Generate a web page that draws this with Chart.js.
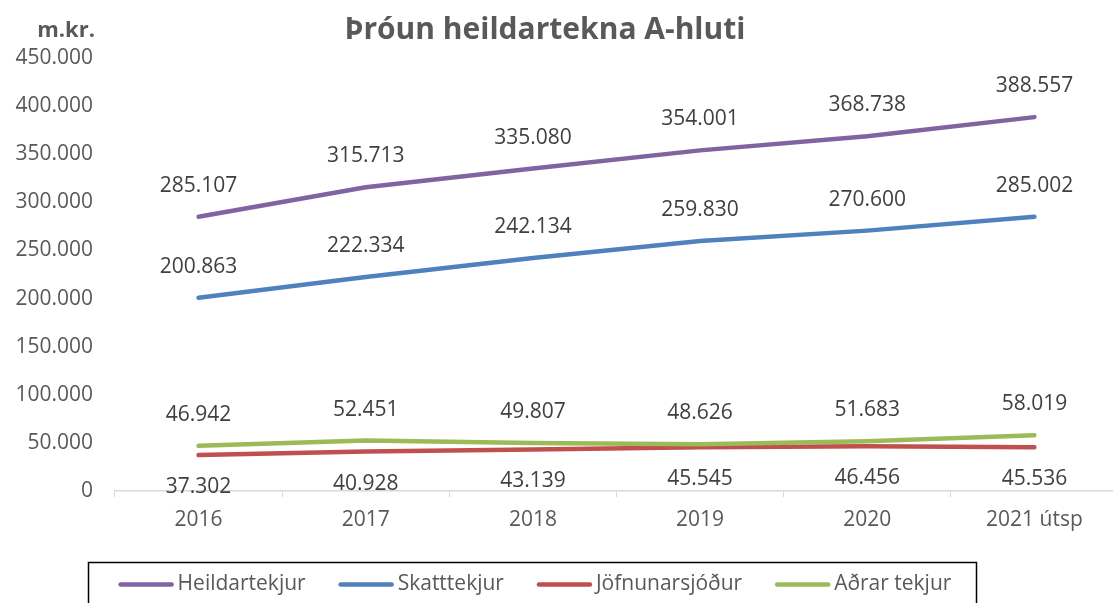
<!DOCTYPE html>
<html><head><meta charset="utf-8">
<script src="https://cdn.jsdelivr.net/npm/chart.js@4/dist/chart.umd.min.js"></script>
<style>html,body{margin:0;padding:0;background:#fff;overflow:hidden}#wrap{width:1113px;height:603px;overflow:hidden;position:relative}canvas{display:block}</style>
</head><body><div id="wrap"><canvas id="c" width="1118" height="603"></canvas></div>
<script>
const categories = ['2016', '2017', '2018', '2019', '2020', '2021 útsp'];
const heildartekjur = [285107, 315713, 335080, 354001, 368738, 388557];
const skatttekjur = [200863, 222334, 242134, 259830, 270600, 285002];
const jofnunarsjodur = [37302, 40928, 43139, 45545, 46456, 45536];
const adrarTekjur = [46942, 52451, 49807, 48626, 51683, 58019];
const seriesNames = ['Heildartekjur', 'Skatttekjur', 'Jöfnunarsjóður', 'Aðrar tekjur'];
const chartTitle = 'Þróun heildartekna A-hluti';
const unitLabel = 'm.kr.';
const yMin = 0, yMax = 450000, yStep = 50000;

const FONT = "'Open Sans', 'DejaVu Sans', sans-serif";
function fmt(v) { return String(Math.round(v)).replace(/\B(?=(\d{3})+(?!\d))/g, '.'); }

const colors = ['#8064A2', '#4F81BD', '#C0504D', '#9BBB59'];
const values = [heildartekjur, skatttekjur, jofnunarsjodur, adrarTekjur];
const labelSide = ['above', 'above', 'below', 'above'];
const drawOrder = [4, 3, 2, 1];

const datasets = values.map((v, i) => ({
  label: seriesNames[i],
  data: v,
  borderColor: colors[i],
  backgroundColor: colors[i],
  borderWidth: 4.5,
  borderCapStyle: 'round',
  borderJoinStyle: 'round',
  pointRadius: 0,
  pointHoverRadius: 0,
  tension: 0,
  fill: false,
  order: drawOrder[i],
  labelSide: labelSide[i]
}));

const extras = {
  id: 'extras',
  afterDatasetsDraw(chart) {
    const ctx = chart.ctx;
    ctx.save();
    ctx.font = '21px ' + FONT;
    ctx.fillStyle = '#404040';
    ctx.textAlign = 'center';
    ctx.textBaseline = 'middle';
    chart.data.datasets.forEach((ds, i) => {
      const meta = chart.getDatasetMeta(i);
      meta.data.forEach((pt, j) => {
        const dy = ds.labelSide === 'below' ? 32 : -31;
        ctx.fillText(fmt(ds.data[j]), pt.x, pt.y + dy);
      });
    });
    ctx.restore();
  },
  afterDraw(chart) {
    const ctx = chart.ctx;
    ctx.save();
    // title
    ctx.fillStyle = '#595959';
    ctx.textBaseline = 'middle';
    ctx.textAlign = 'center';
    ctx.font = 'bold 30px ' + FONT;
    ctx.fillText(chartTitle, 545, 30);
    ctx.textAlign = 'right';
    ctx.font = 'bold 22px ' + FONT;
    ctx.fillText(unitLabel, 95, 31);
    // legend
    const boxL = 88, boxR = 976, boxT = 562;
    ctx.strokeStyle = '#000';
    ctx.lineWidth = 1.5;
    ctx.strokeRect(boxL + 0.5, boxT + 0.5, boxR - boxL, 60);
    ctx.font = '21px ' + FONT;
    const lineLen = 55, gapTxt = 4, gapItem = 33;
    const widths = chart.data.datasets.map(ds => ctx.measureText(ds.label).width);
    let total = 0;
    widths.forEach((w, i) => { total += lineLen + gapTxt + w + (i < widths.length - 1 ? gapItem : 0); });
    let x = (boxL + boxR) / 2 + 3 - total / 2;
    const y = 584.5;
    chart.data.datasets.forEach((ds, i) => {
      ctx.strokeStyle = ds.borderColor;
      ctx.lineWidth = 4.5;
      ctx.lineCap = 'round';
      ctx.beginPath();
      ctx.moveTo(x + 2, y);
      ctx.lineTo(x + lineLen - 2, y);
      ctx.stroke();
      ctx.fillStyle = '#595959';
      ctx.textAlign = 'left';
      ctx.textBaseline = 'middle';
      ctx.fillText(ds.label, x + lineLen + gapTxt, y);
      x += lineLen + gapTxt + widths[i] + gapItem;
    });
    ctx.restore();
  }
};

new Chart(document.getElementById('c'), {
  type: 'line',
  data: { labels: categories, datasets },
  options: {
    responsive: false,
    animation: false,
    events: [],
    layout: { padding: { top: 58, left: 0, right: 0, bottom: 0 } },
    plugins: { legend: { display: false }, tooltip: { enabled: false }, title: { display: false } },
    scales: {
      y: {
        min: yMin, max: yMax,
        ticks: { stepSize: yStep, callback: v => fmt(v), color: '#595959', font: { family: FONT, size: 21 }, padding: 14 },
        grid: { display: false },
        border: { display: false },
        afterFit: s => { s.width = 115; }
      },
      x: {
        offset: true,
        grid: { display: true, drawOnChartArea: false, drawTicks: true, tickLength: 6, color: '#d9d9d9', offset: true },
        border: { display: true, color: '#d9d9d9', width: 1.5 },
        ticks: { color: '#595959', font: { family: FONT, size: 21 }, padding: 10, maxRotation: 0, autoSkip: false },
        afterFit: s => { s.height = 112; }
      }
    }
  },
  plugins: [extras]
});
</script>
</body></html>
